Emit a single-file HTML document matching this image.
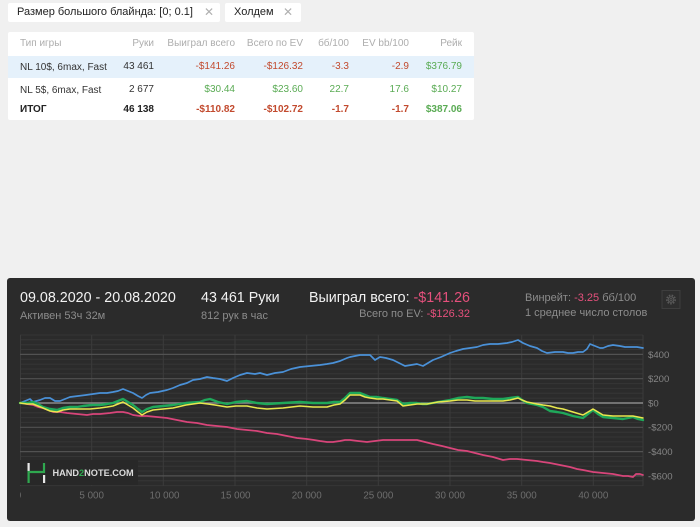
<!DOCTYPE html>
<html><head><meta charset="utf-8">
<style>
*{margin:0;padding:0;box-sizing:border-box}
body{width:700px;height:527px;background:#f0f0f0;font-family:"Liberation Sans","DejaVu Sans",sans-serif;position:relative;overflow:hidden}
.abs{position:absolute;white-space:nowrap}
.chip{position:absolute;top:3px;height:19px;background:#fff;border-radius:2px;font-size:11px;color:#222;line-height:19px}
.chip .x{color:#b0b0b0;position:absolute;top:0;font-size:12px}
.tbl{position:absolute;left:8px;top:32px;width:466px;height:88px;background:#fff;border-radius:2px}
.r{position:absolute;text-align:right;white-space:nowrap;font-size:10px;line-height:12px}
.l{position:absolute;white-space:nowrap;font-size:10px;line-height:12px}
.h{color:#adadad}
.neg{color:#c24a2e}
.pos{color:#5aab54}
.b{font-weight:bold}
.panel{position:absolute;left:7px;top:278px;width:688px;height:243px;background:#2b2b2b;border-radius:3px}
</style></head><body>

<div class="chip" style="left:8px;width:212px;"><span style="position:absolute;left:9px">Размер большого блайнда: [0; 0.1]</span><span class="x" style="left:196px">✕</span></div>
<div class="chip" style="left:225px;width:76px;"><span style="position:absolute;left:9px">Холдем</span><span class="x" style="left:58px">✕</span></div>

<div class="tbl">
  <div style="position:absolute;left:0;top:24px;width:466px;height:22px;background:#e5f1fb"></div>
  <div class="l h" style="left:12px;top:6px">Тип игры</div>
  <div class="r h" style="right:320px;top:6px">Руки</div>
  <div class="r h" style="right:239px;top:6px">Выиграл всего</div>
  <div class="r h" style="right:171px;top:6px">Всего по EV</div>
  <div class="r h" style="right:125px;top:6px">бб/100</div>
  <div class="r h" style="right:65px;top:6px">EV bb/100</div>
  <div class="r h" style="right:12px;top:6px">Рейк</div>
  <div class="l" style="left:12px;top:30px;color:#333">NL 10$, 6max, Fast</div>
  <div class="r" style="right:320px;top:29px;color:#333">43 461</div>
  <div class="r neg" style="right:239px;top:29px">-$141.26</div>
  <div class="r neg" style="right:171px;top:29px">-$126.32</div>
  <div class="r neg" style="right:125px;top:29px">-3.3</div>
  <div class="r neg" style="right:65px;top:29px">-2.9</div>
  <div class="r pos" style="right:12px;top:29px">$376.79</div>
  <div class="l" style="left:12px;top:53px;color:#333">NL 5$, 6max, Fast</div>
  <div class="r" style="right:320px;top:52px;color:#333">2 677</div>
  <div class="r pos" style="right:239px;top:52px">$30.44</div>
  <div class="r pos" style="right:171px;top:52px">$23.60</div>
  <div class="r pos" style="right:125px;top:52px">22.7</div>
  <div class="r pos" style="right:65px;top:52px">17.6</div>
  <div class="r pos" style="right:12px;top:52px">$10.27</div>
  <div class="l b" style="left:12px;top:72px;color:#222">ИТОГ</div>
  <div class="r b" style="right:320px;top:72px;color:#222">46 138</div>
  <div class="r neg b" style="right:239px;top:72px">-$110.82</div>
  <div class="r neg b" style="right:171px;top:72px">-$102.72</div>
  <div class="r neg b" style="right:125px;top:72px">-1.7</div>
  <div class="r neg b" style="right:65px;top:72px">-1.7</div>
  <div class="r pos b" style="right:12px;top:72px">$387.06</div>
</div>

<div class="panel"></div>

<div class="abs" style="left:20px;top:290px;font-size:14.3px;color:#f2f2f2;line-height:17px">09.08.2020 - 20.08.2020</div>
<div class="abs" style="left:20px;top:310px;font-size:11px;color:#8c8c8c;line-height:13px">Активен 53ч 32м</div>
<div class="abs" style="left:201px;top:290px;font-size:14.3px;color:#f2f2f2;line-height:17px">43 461 Руки</div>
<div class="abs" style="left:201px;top:310px;font-size:11px;color:#8c8c8c;line-height:13px">812 рук в час</div>
<div class="abs" style="right:230px;top:290px;font-size:14.3px;color:#f2f2f2;line-height:17px;text-align:right">Выиграл всего: <span style="color:#e5507c">-$141.26</span></div>
<div class="abs" style="right:230px;top:308px;font-size:11px;color:#8c8c8c;line-height:13px;text-align:right">Всего по EV: <span style="color:#e5507c">-$126.32</span></div>
<div class="abs" style="left:525px;top:292px;font-size:11px;color:#8c8c8c;line-height:13px">Винрейт: <span style="color:#e5507c">-3.25</span> бб/100</div>
<div class="abs" style="left:525px;top:307px;font-size:11px;color:#8c8c8c;line-height:13px">1 среднее число столов</div>

<svg class="abs" style="left:0;top:0" width="700" height="527" viewBox="0 0 700 527">
  <rect x="662" y="290.5" width="18" height="18" fill="#2e2e2e" stroke="#3e3e3e" stroke-width="1"/>
  <circle cx="671" cy="299.5" r="4.2" fill="none" stroke="#5a5a5a" stroke-width="1.6" stroke-dasharray="1.6 1.3"/>
  <circle cx="671" cy="299.5" r="2.8" fill="none" stroke="#5a5a5a" stroke-width="1"/>
  <circle cx="671" cy="299.5" r="1.1" fill="none" stroke="#5a5a5a" stroke-width="0.8"/>

  <g stroke="#363636" stroke-width="1">
    <line x1="20" x2="643" y1="335" y2="335"/>
    <line x1="20" x2="643" y1="339.8" y2="339.8"/>
    <line x1="20" x2="643" y1="344.7" y2="344.7"/>
    <line x1="20" x2="643" y1="349.5" y2="349.5"/>
    <line x1="20" x2="643" y1="359.3" y2="359.3"/>
    <line x1="20" x2="643" y1="364.1" y2="364.1"/>
    <line x1="20" x2="643" y1="369" y2="369"/>
    <line x1="20" x2="643" y1="373.8" y2="373.8"/>
    <line x1="20" x2="643" y1="383.6" y2="383.6"/>
    <line x1="20" x2="643" y1="388.4" y2="388.4"/>
    <line x1="20" x2="643" y1="393.3" y2="393.3"/>
    <line x1="20" x2="643" y1="398.1" y2="398.1"/>
    <line x1="20" x2="643" y1="407.9" y2="407.9"/>
    <line x1="20" x2="643" y1="412.7" y2="412.7"/>
    <line x1="20" x2="643" y1="417.6" y2="417.6"/>
    <line x1="20" x2="643" y1="422.4" y2="422.4"/>
    <line x1="20" x2="643" y1="432.2" y2="432.2"/>
    <line x1="20" x2="643" y1="437" y2="437"/>
    <line x1="20" x2="643" y1="441.9" y2="441.9"/>
    <line x1="20" x2="643" y1="446.7" y2="446.7"/>
    <line x1="20" x2="643" y1="456.5" y2="456.5"/>
    <line x1="20" x2="643" y1="461.3" y2="461.3"/>
    <line x1="20" x2="643" y1="466.2" y2="466.2"/>
    <line x1="20" x2="643" y1="471" y2="471"/>
    <line x1="20" x2="643" y1="480.8" y2="480.8"/>
    <line x1="20" x2="643" y1="485.6" y2="485.6"/>
  </g>
  <g stroke="#3b3b3b" stroke-width="1">
    <line x1="20.5" x2="20.5" y1="335" y2="486"/>
    <line x1="91.7" x2="91.7" y1="335" y2="486"/>
    <line x1="163.3" x2="163.3" y1="335" y2="486"/>
    <line x1="235" x2="235" y1="335" y2="486"/>
    <line x1="306.7" x2="306.7" y1="335" y2="486"/>
    <line x1="378.3" x2="378.3" y1="335" y2="486"/>
    <line x1="450" x2="450" y1="335" y2="486"/>
    <line x1="521.7" x2="521.7" y1="335" y2="486"/>
    <line x1="593.3" x2="593.3" y1="335" y2="486"/>
    <line x1="643" x2="643" y1="335" y2="486"/>
  </g>
  <g stroke="#525252" stroke-width="1.2">
    <line x1="20" x2="643" y1="354.4" y2="354.4"/>
    <line x1="20" x2="643" y1="378.7" y2="378.7"/>
    <line x1="20" x2="643" y1="427.3" y2="427.3"/>
    <line x1="20" x2="643" y1="451.6" y2="451.6"/>
    <line x1="20" x2="643" y1="475.9" y2="475.9"/>
  </g>
  <line x1="20" x2="643" y1="403" y2="403" stroke="#8a8a8a" stroke-width="1.4"/>

  <rect x="20" y="460" width="118" height="25" fill="#282828"/>
  <rect x="27.5" y="463" width="2.2" height="8" fill="#e8e8e8"/>
  <path d="M28.6 483 L28.6 472 L44 472 L44 463" fill="none" stroke="#2fa84f" stroke-width="2.2"/>
  <rect x="43" y="475" width="2.2" height="8" fill="#e8e8e8"/>
  <text x="52.5" y="476" font-family="Liberation Sans, sans-serif" font-size="9.2" font-weight="bold" fill="#dcdcdc">HAND<tspan fill="#2fa84f">2</tspan>NOTE.COM</text>

  <g fill="none" stroke-linejoin="round" stroke-linecap="round">
    <polyline stroke="#d8457a" stroke-width="1.7" points="20,403 27,404 33,405 38,407 43,408 48,410 53,412 60,412 67,413 77,414 87,415 93,414 100,414 110,413 117,412 123,412 128,413 133,415 140,416 147,416 157,417 167,418 177,420 187,422 197,423 207,425 217,426 227,427 237,429 247,430 257,431 267,433 277,434 287,436 297,438 307,439 314,440 320,441 327,442 333,442 340,441 345,440 350,440 358,441 367,442 375,441 383,440 392,440 400,440 408,440 417,440 425,442 433,444 442,446 450,448 458,450 467,451 475,453 483,455 493,457 503,460 510,459 517,459 527,460 537,461 543,462 550,463 560,465 570,467 577,469 583,470 593,472 603,473 613,474 623,476 628,476 633,477 636,474 640,474 643,475"/>
    <polyline stroke="#4a91d8" stroke-width="1.7" points="20,403 25,401 30,399 33,402 40,400 45,398 50,398 55,401 60,401 65,399 70,397 78,396 86,395 93,394 100,393 107,393 113,392 118,391 123,389 128,391 133,393 138,396 142,398 146,395 150,393 158,392 167,390 173,388 180,385 187,383 193,380 200,379 207,377 213,378 220,379 227,381 233,378 240,375 247,373 255,374 260,373 267,375 275,373 283,372 291,369 300,367 310,366 320,365 327,364 333,363 340,361 347,358 350,357 355,356 360,355 365,355 370,355 375,360 380,357 386,358 393,360 399,363 405,366 411,365 417,364 423,366 428,363 433,360 441,357 450,353 456,351 463,349 470,348 477,347 483,345 490,344 498,344 507,343 512,342 518,340 523,343 530,346 537,348 542,351 547,353 555,352 563,352 568,353 573,353 578,352 583,352 587,349 590,344 595,346 600,348 603,348 608,346 613,345 620,346 625,347 630,347 637,347 643,348"/>
    <polyline stroke="#1fa85a" stroke-width="2.4" points="20,403 27,403 33,402 38,404 43,407 50,409 57,410 63,408 70,407 77,407 83,406 92,405 100,405 107,404 113,403 118,401 123,399 128,402 133,405 138,409 142,412 147,409 153,407 163,406 173,405 186,403 200,402 205,400 210,399 218,402 227,404 236,402 247,401 257,403 267,404 283,403 300,402 313,403 327,403 334,402 340,402 345,398 350,393 355,393 360,393 365,395 370,397 377,397 383,398 390,399 397,400 403,404 410,403 417,403 422,404 427,404 438,402 450,400 458,398 467,397 475,398 483,398 493,399 503,399 510,398 518,397 522,400 527,403 537,405 543,407 550,411 557,412 563,413 573,416 583,418 588,414 593,410 598,414 603,417 613,418 623,419 628,418 633,417 638,419 643,420"/>
    <polyline stroke="#e9e84e" stroke-width="1.5" points="20,403 27,404 33,404 38,406 43,408 50,411 57,412 63,410 70,409 80,409 90,409 100,408 107,407 113,406 118,404 123,402 128,405 133,408 138,412 142,415 147,412 153,410 163,409 173,408 186,405 200,403 208,404 215,405 227,407 236,406 247,406 257,408 267,409 283,408 300,406 313,407 327,407 334,405 340,404 345,400 350,395 355,395 360,395 365,397 370,398 377,399 383,399 390,400 397,401 403,406 410,405 417,404 427,404 438,402 450,401 458,400 467,400 475,401 483,401 493,401 503,401 510,400 518,398 522,400 527,402 537,404 543,405 550,406 557,408 563,409 573,412 583,415 588,412 593,409 598,412 603,415 613,416 623,416 633,416 638,417 643,418"/>
  </g>

  <g font-family="Liberation Sans, sans-serif" font-size="9.6" fill="#858585">
    <text x="648" y="357.8">$400</text>
    <text x="648" y="382.1">$200</text>
    <text x="648" y="406.4">$0</text>
    <text x="648" y="430.7">-$200</text>
    <text x="648" y="455">-$400</text>
    <text x="648" y="479.3">-$600</text>
  </g>
  <clipPath id="cx"><rect x="20" y="485" width="640" height="20"/></clipPath>
  <g font-family="Liberation Sans, sans-serif" font-size="9.8" fill="#6e6e6e" text-anchor="middle" clip-path="url(#cx)">
    <text x="18.5" y="498.5">0</text>
    <text x="91.7" y="498.5">5 000</text>
    <text x="164.5" y="498.5">10 000</text>
    <text x="235.5" y="498.5">15 000</text>
    <text x="306.7" y="498.5">20 000</text>
    <text x="378.3" y="498.5">25 000</text>
    <text x="450" y="498.5">30 000</text>
    <text x="521.7" y="498.5">35 000</text>
    <text x="593.3" y="498.5">40 000</text>
  </g>
</svg>
</body></html>
